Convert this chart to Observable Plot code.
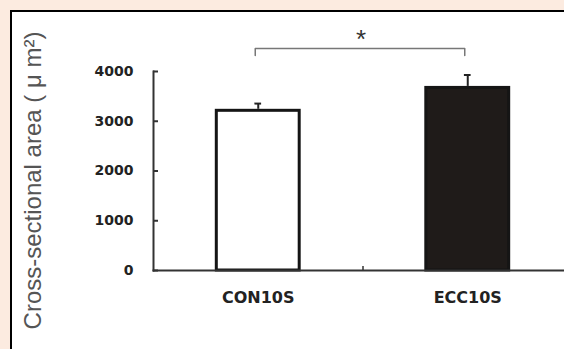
<!DOCTYPE html>
<html><head><meta charset="utf-8">
<script src="https://cdn.jsdelivr.net/npm/d3@7"></script>
<script src="https://cdn.jsdelivr.net/npm/@observablehq/plot@0.6"></script>
<style>
html,body{margin:0;padding:0;background:#fcebe0;width:564px;height:349px;overflow:hidden}
#frame{position:absolute;left:9.5px;top:9.5px;width:560px;height:345px;box-sizing:border-box;border-left:2.5px solid #000;border-top:2.5px solid #000;background:#fff}
#chart{position:absolute;left:0;top:0;width:552px;height:337px}
</style></head><body><div id="frame"><div id="chart"></div></div>
<script>
const categories = ["CON10S", "ECC10S"];
const means = [3240, 3700];
const sems = [115, 230];
const fills = ["#ffffff", "#1f1b19"];
const yTicks = [0, 1000, 2000, 3000, 4000];
const sigPair = ["CON10S", "ECC10S"];
const sigLevel = 4460;
const sigDrop = 140;
const sigLabel = "*";
const yTitle = "Cross-sectional area ( \u03bc m\u00b2)";

const data = categories.map((c, i) => ({cat: c, i, mean: means[i], sem: sems[i], fill: fills[i]}));
const halfBar = 0.205, halfCap = 0.016;
const a = categories.indexOf(sigPair[0]), b = categories.indexOf(sigPair[1]);
const bracket = [
  {x: a, y: sigLevel - sigDrop}, {x: a, y: sigLevel},
  {x: b, y: sigLevel}, {x: b, y: sigLevel - sigDrop}
];
const font = "'Liberation Sans', Arial, sans-serif";
const tickFont = "'DejaVu Sans', sans-serif";

const chart = Plot.plot({
  width: 552, height: 337,
  marginLeft: 141, marginRight: 0, marginTop: 59, marginBottom: 79,
  style: {background: "transparent", fontFamily: font, color: "#222", overflow: "visible"},
  x: {domain: [-0.5, categories.length - 0.5], range: [141, 560]},
  y: {domain: [0, 4000], range: [258, 59]},
  marks: [
    Plot.rectY(data, {x1: d => d.i - halfBar, x2: d => d.i + halfBar, y: "mean", fill: "fill", stroke: "#151515", strokeWidth: 3, insetLeft: 1.5, insetRight: 1.5, insetTop: 1.5, insetBottom: 0}),
    Plot.ruleX(data, {x: "i", y1: "mean", y2: d => d.mean + d.sem, stroke: "#222", strokeWidth: 2}),
    Plot.ruleY(data, {y: d => d.mean + d.sem, x1: d => d.i - halfCap, x2: d => d.i + halfCap, stroke: "#222", strokeWidth: 2}),
    Plot.frame({anchor: "left", stroke: "#333", strokeWidth: 2}),
    Plot.frame({anchor: "bottom", stroke: "#333", strokeWidth: 2}),
    Plot.axisY({ticks: yTicks, tickSize: -5, text: null, stroke: "#333", strokeWidth: 2, label: null}),
    Plot.axisY({ticks: yTicks, tickSize: 0, tickPadding: 20, tickFormat: d => String(d), fontSize: 14, fontWeight: "bold", fontFamily: tickFont, fill: "#222", label: null}),
    Plot.axisX({ticks: [0.5], tickSize: -4, text: null, stroke: "#333", strokeWidth: 1.5, label: null}),
    Plot.axisX({ticks: categories.map((c, i) => i), tickSize: 0, tickPadding: 21, tickFormat: i => categories[i], fontSize: 16, fontWeight: "bold", fontFamily: tickFont, fill: "#222", label: null}),
    Plot.line(bracket, {x: "x", y: "y", stroke: "#777", strokeWidth: 1.5, dx: -3}),
    Plot.text([sigLabel], {x: (a + b) / 2, y: sigLevel, dy: -9, fontSize: 26, fill: "#333", dx: -2}),
    Plot.text([yTitle], {frameAnchor: "left", rotate: -90, textAnchor: "middle", dx: -120, dy: 9.5, fontSize: 24, fill: "#555"})
  ]
});
document.getElementById("chart").append(chart);
</script></body></html>
